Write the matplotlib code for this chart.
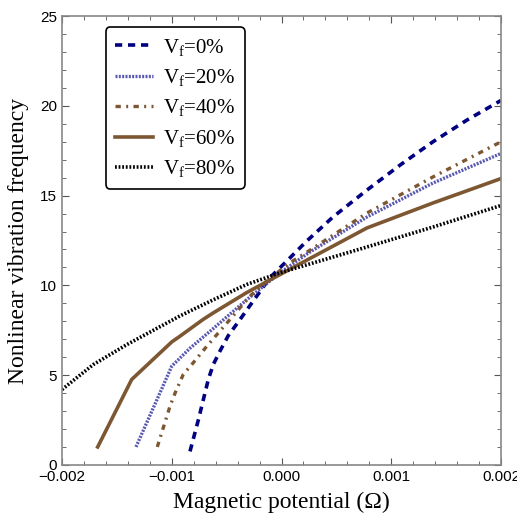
import numpy as np
import matplotlib
matplotlib.use('Agg')
from matplotlib import pyplot as plt
from matplotlib.ticker import MultipleLocator, FuncFormatter

plt.rcParams['mathtext.fontset'] = 'custom'
plt.rcParams['mathtext.rm'] = 'Liberation Serif'
plt.rcParams['mathtext.it'] = 'Liberation Serif:italic'

# magnetic potential (x1e-3) and frequency for each fibre volume fraction
x_vf0 = [-0.834, -0.758, -0.667, -0.621, -0.56, -0.485, -0.378, -0.226, -0.105, 0.047, 0.23, 0.469, 0.779, 1.08, 1.38, 1.69, 2.0]
y_vf0 = [0.75, 2.5, 4.76, 5.6, 6.35, 7.2, 8.1, 9.4, 10.43, 11.35, 12.47, 13.81, 15.31, 16.7, 18.0, 19.21, 20.3]

x_vf20 = [-1.326, -1.0, -0.834, -0.621, -0.317, -0.014, 0.244, 0.779, 1.38, 2.0]
y_vf20 = [1.0, 5.5, 6.5, 7.6, 9.2, 10.7, 11.8, 13.81, 15.7, 17.35]

x_vf40 = [-1.132, -1.016, -0.97, -0.895, -0.804, -0.682, -0.47, -0.287, -0.135, 0.078, 0.244, 0.779, 1.38, 2.0]
y_vf40 = [1.0, 3.27, 4.0, 5.04, 5.69, 6.6, 8.1, 9.4, 10.24, 11.27, 11.9, 14.03, 16.04, 18.0]

x_vf60 = [-1.675, -1.365, -1.0, -0.925, -0.715, -0.621, -0.317, -0.014, 0.244, 0.779, 1.38, 2.0]
y_vf60 = [1.0, 4.76, 6.85, 7.17, 8.1, 8.47, 9.6, 10.6, 11.45, 13.2, 14.59, 15.95]

x_vf80 = [-2.0, -1.715, -1.41, -1.016, -0.925, -0.621, -0.317, -0.014, 0.244, 0.779, 1.38, 2.0]
y_vf80 = [4.2, 5.59, 6.7, 8.0, 8.3, 9.2, 10.05, 10.7, 11.17, 12.14, 13.25, 14.45]

labels = [r'V$_{\mathrm{f}}$=0%', r'V$_{\mathrm{f}}$=20%', r'V$_{\mathrm{f}}$=40%',
          r'V$_{\mathrm{f}}$=60%', r'V$_{\mathrm{f}}$=80%']

brown = '#7d5632'

fig = plt.figure(figsize=(5.17, 5.20), dpi=100)
ax = fig.add_axes([0.12, 0.106, 0.849, 0.863])

ax.plot(np.array(x_vf0) * 1e-3, y_vf0, color='#000080', lw=2.6, ls=(0, (2, 1.6)), label=labels[0])
ax.plot(np.array(x_vf20) * 1e-3, y_vf20, color='#5858b0', lw=2.4, ls=(0, (0.6, 0.4)), label=labels[1])
ax.plot(np.array(x_vf40) * 1e-3, y_vf40, color=brown, lw=2.4, ls=(0, (1.6, 1.6, 0.6, 1.6)), label=labels[2])
ax.plot(np.array(x_vf60) * 1e-3, y_vf60, color=brown, lw=2.6, ls='-', label=labels[3])
ax.plot(np.array(x_vf80) * 1e-3, y_vf80, color='black', lw=2.6, ls=(0, (0.5, 0.5)), label=labels[4])

ax.set_xlim(-0.002, 0.002)
ax.set_ylim(0, 25)
ax.xaxis.set_major_locator(MultipleLocator(0.001))
ax.xaxis.set_minor_locator(MultipleLocator(0.0002))
ax.yaxis.set_major_locator(MultipleLocator(5))
ax.yaxis.set_minor_locator(MultipleLocator(1))
ax.xaxis.set_major_formatter(FuncFormatter(lambda v, p: ('%.3f' % (0.0 if abs(v) < 1e-9 else v)).replace('-', '\u2212')))
ax.tick_params(which='both', direction='in', top=True, right=True, color='#555555',
               labelsize=11, labelfontfamily='Liberation Sans')
ax.tick_params(which='major', length=5)
ax.tick_params(which='minor', length=3)
for s in ax.spines.values():
    s.set_color('#888888')
    s.set_linewidth(1.2)

ax.set_xlabel('Magnetic potential (\u03a9)', fontfamily='Liberation Serif', fontsize=17, labelpad=6)
ax.set_ylabel('Nonlinear vibration frequency', fontfamily='Liberation Serif', fontsize=17, labelpad=8)

leg = ax.legend(loc='upper left', bbox_to_anchor=(0.1, 0.975), handlelength=1.8,
                labelspacing=0.45, handletextpad=0.5, borderpad=0.45, borderaxespad=0,
                fancybox=True, framealpha=1, edgecolor='black',
                prop={'family': 'Liberation Serif', 'size': 15})
leg.get_frame().set_linewidth(1.2)

fig.savefig('out.png', dpi=100)
